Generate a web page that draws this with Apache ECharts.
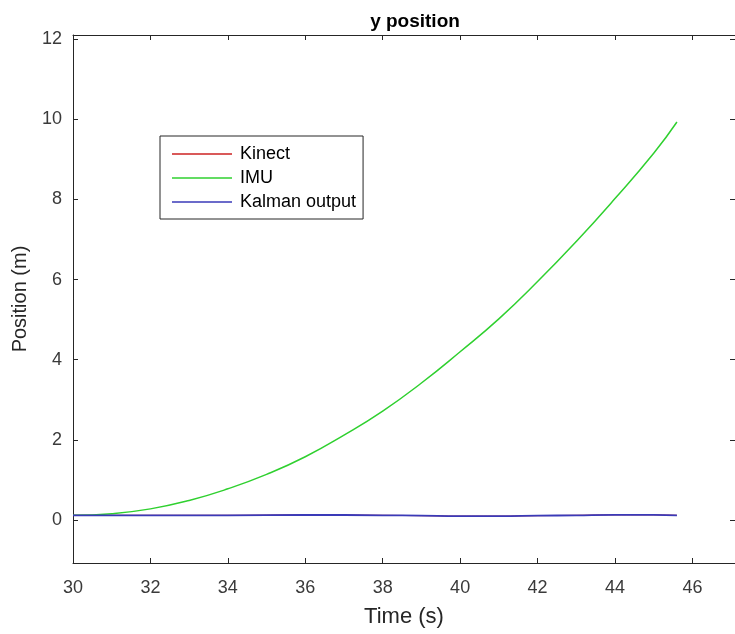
<!DOCTYPE html>
<html>
<head>
  <meta charset="utf-8">
  <title>y position</title>
  <script src="https://cdn.jsdelivr.net/npm/echarts@6/dist/echarts.min.js"></script>
  <style>
    html, body { margin: 0; padding: 0; background: #fff; }
    #main { width: 735px; height: 634px; }
  </style>
</head>
<body>
<div id="main"></div>
<script>
// values
var imuTime = [30, 31, 32, 33, 34, 35, 36, 37, 38, 39, 40, 41, 42, 43, 44, 45, 45.6];
var imuPos = [0.12, 0.16, 0.28, 0.49, 0.78, 1.14, 1.58, 2.12, 2.72, 3.42, 4.2, 5.02, 5.95, 6.95, 8.02, 9.15, 9.93];

var kalmanTime = [30, 32, 34, 36, 38, 39, 40, 41, 42, 43, 44, 45, 45.6];
var kalmanPos = [0.12, 0.12, 0.12, 0.13, 0.12, 0.11, 0.1, 0.1, 0.11, 0.12, 0.13, 0.13, 0.12];
var kinectPos = [0.12, 0.12, 0.12, 0.13, 0.12, 0.11, 0.1, 0.1, 0.11, 0.12, 0.13, 0.13, 0.12];

function pairs(xs, ys) {
  var out = [];
  for (var i = 0; i < xs.length; i++) out.push([xs[i], ys[i]]);
  return out;
}

var frame = '#262626';
var font = 'Liberation Sans, Arial, sans-serif';
var lineIcon = 'path://M0,0L60,0L60,1.5L0,1.5Z';

var myChart = echarts.init(document.getElementById('main'));

var xBase = {
  type: 'value',
  min: 30,
  max: 47.1,
  interval: 2,
  splitLine: { show: false },
  axisLine: { show: true, onZero: false, lineStyle: { color: frame, width: 1 } },
  axisTick: { show: true, inside: true, length: 5, lineStyle: { color: frame } }
};
var yBase = {
  type: 'value',
  min: -1.07,
  max: 12.1,
  minInterval: 2,
  maxInterval: 2,
  splitNumber: 6,
  splitLine: { show: false },
  axisLine: { show: true, onZero: false, lineStyle: { color: frame, width: 1 } },
  axisTick: { show: true, inside: true, length: 5, lineStyle: { color: frame } }
};

var option = {
  backgroundColor: '#fff',
  animation: false,
  title: {
    text: 'y position',
    left: 410,
    top: 7,
    textAlign: 'center',
    textStyle: { fontFamily: font, fontSize: 19, fontWeight: 'bold', color: '#000' }
  },
  grid: { left: 73, top: 35, right: 0, bottom: 71, containLabel: false },
  legend: {
    orient: 'vertical',
    left: 160,
    top: 136,
    padding: [9, 7, 8, 12],
    itemWidth: 60,
    itemHeight: 14,
    itemGap: 6,
    backgroundColor: '#fff',
    borderColor: frame,
    borderWidth: 1,
    borderRadius: 0,
    textStyle: { fontFamily: font, fontSize: 18, color: '#000', padding: [0, 0, 0, 3] },
    data: [
      { name: 'Kinect', icon: lineIcon },
      { name: 'IMU', icon: lineIcon },
      { name: 'Kalman output', icon: lineIcon }
    ]
  },
  xAxis: [
    Object.assign({}, xBase, {
      position: 'bottom',
      name: 'Time (s)',
      nameLocation: 'middle',
      nameGap: 43,
      nameTextStyle: { fontFamily: font, fontSize: 22, color: frame },
      axisLabel: {
        margin: 16, fontFamily: font, fontSize: 18, color: '#3a3a3a',
        showMaxLabel: false,
        formatter: function (v) { return v % 2 === 0 ? String(v) : ''; }
      }
    }),
    Object.assign({}, xBase, { position: 'top', axisLabel: { show: false } })
  ],
  yAxis: [
    Object.assign({}, yBase, {
      position: 'left',
      name: 'Position (m)',
      nameLocation: 'middle',
      nameGap: 43,
      nameTextStyle: { fontFamily: font, fontSize: 20, color: frame },
      axisLabel: {
        margin: 11, fontFamily: font, fontSize: 18, color: '#3a3a3a',
        showMinLabel: false, showMaxLabel: false,
        formatter: function (v) { return v % 2 === 0 ? String(v) : ''; }
      }
    }),
    Object.assign({}, yBase, {
      position: 'right',
      axisLine: { show: false },
      axisLabel: { show: false }
    })
  ],
  series: [
    {
      name: 'Kinect', type: 'line', symbol: 'none', smooth: true,
      color: '#cc2222', lineStyle: { width: 1 },
      data: pairs(kalmanTime, kinectPos)
    },
    {
      name: 'IMU', type: 'line', symbol: 'none', smooth: true,
      color: '#2fd02f', lineStyle: { width: 1.5 },
      data: pairs(imuTime, imuPos)
    },
    {
      name: 'Kalman output', type: 'line', symbol: 'none', smooth: true,
      color: '#3a3ab8', lineStyle: { width: 1.8 },
      data: pairs(kalmanTime, kalmanPos)
    }
  ]
};

myChart.setOption(option);
</script>
</body>
</html>
